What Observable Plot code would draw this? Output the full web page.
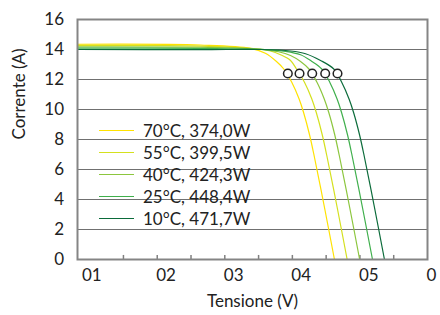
<!DOCTYPE html>
<html><head><meta charset="utf-8">
<script src="https://cdn.jsdelivr.net/npm/d3@7"></script>
<script src="https://cdn.jsdelivr.net/npm/@observablehq/plot@0.6"></script>
<style>
body{margin:0;background:#fff;font-family:Lato,sans-serif;}
#wrap{position:relative;width:440px;height:315px;overflow:hidden;}
#legend{position:absolute;left:99px;top:119.8px;font-size:17px;color:#222;font-family:Lato,sans-serif;}
.row{display:flex;align-items:center;height:21.9px;white-space:nowrap;}
.sw{width:35px;height:1.5px;margin-right:9px;}
</style></head><body><div id="wrap"><div id="chart"></div><div id="legend"></div></div>
<script>
const temps = ["70°C", "55°C", "40°C", "25°C", "10°C"];
const powers = ["374,0W", "399,5W", "424,3W", "448,4W", "471,7W"];
const colors = ["#FFE200", "#D4E01E", "#8CC63E", "#3FAF4C", "#0B6B3A"];

const v70 = [8.2, 26.4, 33.8, 36.0, 37.65, 38.73, 39.93, 41.0, 41.66, 42.55, 43.23, 44.74, 46.23];
const i70 = [14.35, 14.3, 14.08, 13.75, 13.2, 12.7, 11.8, 10.7, 9.8, 8.3, 6.9, 3.5, 0];
const v55 = [8.2, 26.4, 34.55, 36.77, 38.25, 39.73, 40.61, 41.81, 42.88, 43.54, 44.43, 45.11, 46.62, 48.11];
const i55 = [14.27, 14.23, 14.05, 13.9, 13.65, 13.27, 12.7, 11.8, 10.7, 9.8, 8.3, 6.9, 3.5, 0];
const v40 = [8.2, 26.4, 35.0, 37.95, 39.73, 41.21, 42.46, 43.66, 44.72, 45.39, 46.28, 46.96, 48.47, 49.96];
const i40 = [14.18, 14.15, 14.03, 13.85, 13.6, 13.2, 12.7, 11.8, 10.7, 9.8, 8.3, 6.9, 3.5, 0];
const v25 = [8.2, 26.4, 35.3, 38.99, 41.21, 42.84, 44.35, 45.55, 46.62, 47.28, 48.17, 48.85, 50.36, 51.86];
const i25 = [14.09, 14.07, 14.01, 13.88, 13.65, 13.22, 12.7, 11.8, 10.7, 9.8, 8.3, 6.9, 3.5, 0];
const v10 = [8.2, 26.4, 35.6, 39.73, 41.95, 44.17, 46.13, 47.32, 48.39, 49.06, 49.95, 50.63, 52.14, 53.63];
const i10 = [14.0, 13.99, 14.0, 13.9, 13.72, 13.27, 12.7, 11.8, 10.7, 9.8, 8.3, 6.9, 3.5, 0];

const mppV = [39.33, 41.06, 42.94, 44.86, 46.68];
const mppI = [12.4, 12.4, 12.4, 12.4, 12.4];

const xLabelPos = [9, 20, 30, 40, 50, 60];
const xLabels = ["01", "02", "03", "04", "05", "0"];
const xMinorTicks = [15, 20, 25, 30, 35, 40, 45, 50, 55];
const yGrid = [2, 4, 6, 8, 10, 12, 14];

const seriesV = [v70, v55, v40, v25, v10];
const seriesI = [i70, i55, i40, i25, i10];
const curves = [];
temps.forEach((t, k) => seriesV[k].forEach((v, j) => curves.push({V: v, I: seriesI[k][j], series: t})));
const mpp = mppV.map((v, k) => ({V: v, I: mppI[k]}));

const plot = Plot.plot({
  width: 440, height: 315,
  marginLeft: 77, marginRight: 13, marginTop: 19, marginBottom: 56,
  style: {fontFamily: "Lato, sans-serif", fontSize: "17px", color: "#222", background: "white"},
  x: {domain: [8.2, 60], axis: null},
  y: {domain: [0, 16], ticks: 8, tickSize: 0, tickPadding: 13.5, label: null},
  color: {domain: temps, range: colors},
  marks: [
    Plot.ruleY(yGrid, {stroke: "#707070", strokeWidth: 1}),
    Plot.ruleX(xMinorTicks, {y1: 0, y2: 0.27, stroke: "#808080", strokeWidth: 1.5}),
    Plot.line(curves, {x: "V", y: "I", stroke: "series", z: "series", curve: "catmull-rom", strokeWidth: 1.2}),
    Plot.dot(mpp, {x: "V", y: "I", r: 4.3, fill: "white", stroke: "#222", strokeWidth: 1.5}),
    Plot.frame({stroke: "#858585", strokeWidth: 2}),
    Plot.text(xLabelPos, {x: d => d, text: (d, i) => xLabels[i], frameAnchor: "bottom", textAnchor: "start", dy: 21.6, dx: -1, fontSize: 17, fill: "#222"}),
    Plot.text(["Tensione (V)"], {text: d => d, frameAnchor: "bottom", dy: 47.5, fontSize: 17, fill: "#222"}),
    Plot.text(["Corrente (A)"], {text: d => d, frameAnchor: "left", dx: -58, rotate: -90, fontSize: 17, fill: "#222"})
  ]
});
document.getElementById("chart").appendChild(plot);

const legend = document.getElementById("legend");
temps.forEach((t, k) => {
  const row = document.createElement("div");
  row.className = "row";
  const sw = document.createElement("div");
  sw.className = "sw";
  sw.style.background = colors[k];
  const lab = document.createElement("span");
  lab.textContent = t + ", " + powers[k];
  row.appendChild(sw);
  row.appendChild(lab);
  legend.appendChild(row);
});
</script></body></html>
